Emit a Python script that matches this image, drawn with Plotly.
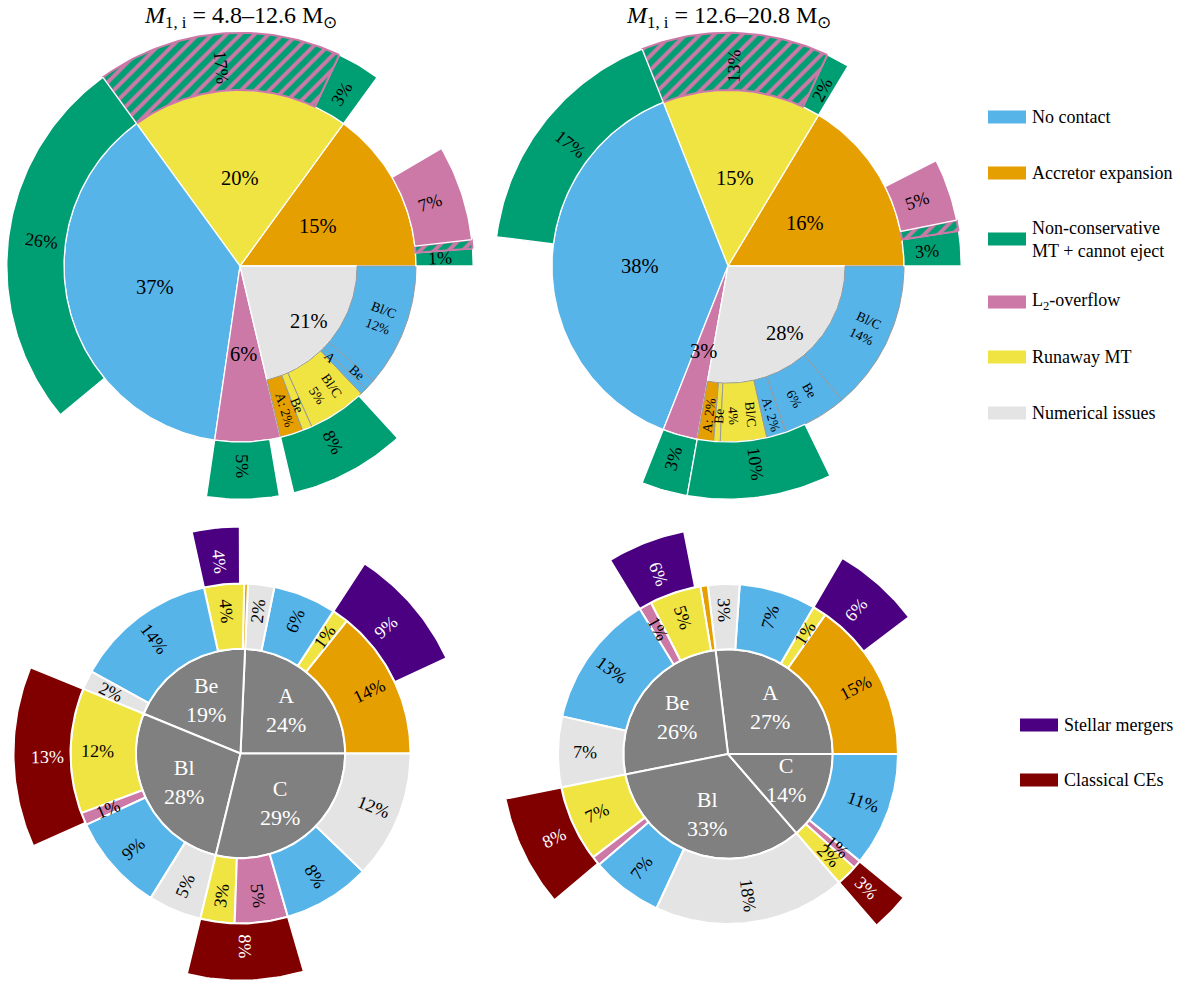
"""
Outcome fractions of the binary models, shown as nested pie charts.
Top row: outcome of the first MT phase split by mass range,
bottom row: the same systems grouped by the type of the donor (A/Be/Bl/C).
"""

import numpy as np
import plotly.graph_objects as go

# =============================================================================
# 1. Data (percent of all systems, counted counter-clockwise from 3 o'clock)
# =============================================================================
titles = [
    "<i>M</i><sub>1, i</sub> = 4.8–12.6 M<sub>⊙</sub>",
    "<i>M</i><sub>1, i</sub> = 12.6–20.8 M<sub>⊙</sub>",
]

legend_names = ["No contact", "Accretor expansion", "Non-conservative<br>MT + cannot eject",
                "L<sub>2</sub>-overflow", "Runaway MT", "Numerical issues"]
legend_cats = ["nocontact", "acc", "nc", "l2", "run", "num"]
legend2_names = ["Stellar mergers", "Classical CEs"]
legend2_cats = ["merger", "ce"]

# --- top left: M1,i = 4.8-12.6 Msun
tl_main_cats = ["acc", "run", "nocontact", "l2", "num"]
tl_main_vals = [15.0, 20.0, 37.7, 6.0, 21.3]
tl_main_text = ["15%", "20%", "37%", "6%", "21%"]
tl_num_cats = ["acc", "run", "run", "nocontact", "nocontact", "nocontact"]
tl_num_vals = [2.1, 0.9, 5.4, 0.6, 1.0, 11.3]
tl_num_text = ["A: 2%", "Be", "Bl/C<br>5%", "A", "Be", "Bl/C<br>12%"]
tl_out_parent = [0, 0, 0, 1, 1, 2, 3, 4]
tl_out_cats = ["nc", "nc_l2", "l2", "nc", "nc_l2", "nc", "nc", "nc"]
tl_out_vals = [1.2, 0.6, 6.6, 3.0, 17.0, 26.0, 5.0, 8.1]
tl_out_text = ["1%", "", "7%", "3%", "17%", "26%", "5%", "8%"]

# --- top right: M1,i = 12.6-20.8 Msun
tr_main_cats = ["acc", "run", "nocontact", "l2", "num"]
tr_main_vals = [16.4, 14.6, 38.0, 3.2, 27.8]
tr_main_text = ["16%", "15%", "38%", "3%", "28%"]
tr_num_cats = ["acc", "run", "run", "nocontact", "nocontact", "nocontact"]
tr_num_vals = [1.5, 0.6, 4.25, 1.8, 5.9, 13.75]
tr_num_text = ["A: 2%", "Be", "Bl/C<br>4%", "A: 2%", "Be<br>6%", "Bl/C<br>14%"]
tr_out_parent = [0, 0, 0, 1, 1, 2, 3, 4]
tr_out_cats = ["nc", "nc_l2", "l2", "nc", "nc_l2", "nc", "nc", "nc"]
tr_out_vals = [2.4, 0.75, 4.3, 1.6, 13.0, 17.0, 3.2, 10.0]
tr_out_text = ["3%", "", "5%", "2%", "13%", "17%", "3%", "10%"]

# --- bottom left: donor types, low-mass range
bl_grp_vals = [24.3, 19.5, 27.4, 28.8]
bl_grp_text = ["A<br>24%", "Be<br>19%", "Bl<br>28%", "C<br>29%"]
bl_ring_grp = [0, 0, 0, 0, 1, 1, 1, 1, 2, 2, 2, 2, 3, 3, 3, 3]
bl_ring_cats = ["acc", "run", "nocontact", "num", "acc", "run", "nocontact", "num",
                "run", "l2", "nocontact", "num", "run", "l2", "nocontact", "num"]
bl_ring_vals = [14.25, 1.55, 6.0, 2.5, 0.35, 3.8, 13.55, 1.8,
                11.9, 1.2, 9.25, 5.05, 3.25, 5.05, 8.3, 12.2]
bl_ring_text = ["14%", "1%", "6%", "2%", "", "4%", "14%", "2%",
                "12%", "1%", "9%", "5%", "3%", "5%", "8%", "12%"]
bl_out_grp = [0, 1, 2, 3]
bl_out_cats = ["merger", "merger", "ce", "ce"]
bl_out_vals = [8.9, 3.4, 12.9, 8.3]
bl_out_text = ["9%", "4%", "13%", "8%"]

# --- bottom right: donor types, high-mass range
br_grp_vals = [26.9, 26.25, 33.2, 13.65]
br_grp_text = ["A<br>27%", "Be<br>26%", "Bl<br>33%", "C<br>14%"]
br_ring_grp = [0, 0, 0, 0, 1, 1, 1, 1, 1, 2, 2, 2, 2, 3, 3, 3]
br_ring_cats = ["acc", "run", "nocontact", "num", "acc", "run", "l2", "nocontact", "num",
                "run", "l2", "nocontact", "num", "run", "l2", "nocontact"]
br_ring_vals = [15.3, 1.3, 7.3, 3.0, 0.7, 4.9, 1.2, 12.75, 6.7,
                7.25, 0.9, 6.8, 18.25, 2.0, 0.8, 10.85]
br_ring_text = ["15%", "1%", "7%", "3%", "", "5%", "1%", "13%", "7%",
                "7%", "", "7%", "18%", "2%", "1%", "11%"]
br_out_grp = [0, 1, 2, 3]
br_out_cats = ["merger", "merger", "ce", "ce"]
br_out_vals = [6.3, 5.6, 8.0, 2.75]
br_out_text = ["6%", "6%", "8%", "3%"]

# =============================================================================
# 2. Style
# =============================================================================
COLORS = {
    "nocontact": "#56B4E9",
    "acc": "#E69F00",
    "nc": "#009E73",
    "l2": "#CC79A7",
    "run": "#F0E442",
    "num": "#E4E4E4",
    "merger": "#4B0082",
    "ce": "#800000",
    "grp": "#808080",
    "nc_l2": "#009E73",
}
FONT = "Liberation Serif, Times New Roman, serif"
SUB_EDGE = "#9a9a9a"

W, H = 1200, 990
UNIT = 176            # px per data unit (= radius of the top pies)
HALF = 1.34           # half size of each panel in data units
centers = [(240, 266), (728, 266), (240.5, 753.5), (728, 754)]

TOP_R_NUM, TOP_R, TOP_R_OUT = 0.665, 1.0, 1.325
BOT_R_IN, BOT_R_RING, BOT_R_OUT = 0.595, 0.966, 1.29

# a couple of the tiny sub-ring labels sit off the middle so they don't collide
sub_label_r = {(0, 3): 0.73, (0, 4): 0.9, (1, 3): 0.88, (1, 4): 0.84}

fig = go.Figure()
annotations = []


def axes(k):
    return ("x", "y") if k == 0 else (f"x{k + 1}", f"y{k + 1}")


def wedge_xy(a0, a1, r0, r1):
    n = max(int(abs(a1 - a0)) + 2, 4)
    t = np.radians(np.linspace(a0, a1, n))
    x = list(r1 * np.cos(t))
    y = list(r1 * np.sin(t))
    if r0 > 0:
        x += list(r0 * np.cos(t[::-1]))
        y += list(r0 * np.sin(t[::-1]))
    else:
        x.append(0.0)
        y.append(0.0)
    x.append(x[0])
    y.append(y[0])
    return x, y


def add_wedge(k, a0, a1, r0, r1, cat, edge="white", ew=1.3):
    x, y = wedge_xy(a0, a1, r0, r1)
    xa, ya = axes(k)
    kw = dict(fill="toself", fillcolor=COLORS[cat], line=dict(color=edge, width=ew))
    if cat == "nc_l2":
        kw["fillpattern"] = dict(shape="/", fgcolor=COLORS["l2"], bgcolor=COLORS["nc"],
                                 fgopacity=1, size=10, solidity=0.4)
        kw["line"] = dict(color=COLORS["l2"], width=2)
    fig.add_trace(go.Scatter(x=x, y=y, mode="lines", hoverinfo="skip",
                             showlegend=False, xaxis=xa, yaxis=ya, **kw))


def add_label(k, text, ang, r, size, color="black", radial=True):
    if not text:
        return
    t = np.radians(ang)
    rot = 0
    if radial:
        rot = -ang
        if 90 < ang % 360 < 270:
            rot += 180
        rot = (rot + 180) % 360 - 180
    xa, ya = axes(k)
    annotations.append(dict(
        x=r * np.cos(t), y=r * np.sin(t), xref=xa, yref=ya, text=text,
        textangle=rot, showarrow=False,
        font=dict(size=size, color=color, family=FONT),
    ))


def draw_top(k, main_cats, main_vals, main_text, num_cats, num_vals, num_text,
             out_parent, out_cats, out_vals, out_text):
    starts = np.concatenate([[0.0], np.cumsum(main_vals)[:-1]])
    for i, (c, v, s) in enumerate(zip(main_cats, main_vals, main_text)):
        a0, a1 = starts[i] * 3.6, (starts[i] + v) * 3.6
        add_wedge(k, a0, a1, 0, TOP_R_NUM if c == "num" else TOP_R, c)
        add_label(k, s, (a0 + a1) / 2, 0.5, 20.5, radial=False)

    # breakdown of the numerical-issues wedge
    pos = starts[main_cats.index("num")]
    for j, (c, v, s) in enumerate(zip(num_cats, num_vals, num_text)):
        a0, a1 = pos * 3.6, (pos + v) * 3.6
        pos += v
        add_wedge(k, a0, a1, TOP_R_NUM, TOP_R, c, edge=SUB_EDGE, ew=1)
        add_label(k, s, (a0 + a1) / 2, sub_label_r.get((k, j), 0.855), 13.5)

    # outer ring, stacked from the start of the parent wedge
    filled = {}
    for p, c, v, s in zip(out_parent, out_cats, out_vals, out_text):
        pos = filled.get(p, starts[p])
        a0, a1 = pos * 3.6, (pos + v) * 3.6
        filled[p] = pos + v
        add_wedge(k, a0, a1, TOP_R, TOP_R_OUT, c)
        add_label(k, s, (a0 + a1) / 2, 1.135, 18)


def draw_bottom(k, grp_vals, grp_text, ring_grp, ring_cats, ring_vals, ring_text,
                out_grp, out_cats, out_vals, out_text):
    gstarts = np.concatenate([[0.0], np.cumsum(grp_vals)[:-1]])
    for i, (v, s) in enumerate(zip(grp_vals, grp_text)):
        a0, a1 = gstarts[i] * 3.6, (gstarts[i] + v) * 3.6
        add_wedge(k, a0, a1, 0, BOT_R_IN, "grp", ew=2)
        add_label(k, s, (a0 + a1) / 2, 0.36, 22, color="white", radial=False)

    spans = []
    filled = {}
    for g, c, v, s in zip(ring_grp, ring_cats, ring_vals, ring_text):
        pos = filled.get(g, gstarts[g])
        filled[g] = pos + v
        spans.append((g, c, pos, pos + v))
        a0, a1 = pos * 3.6, (pos + v) * 3.6
        add_wedge(k, a0, a1, BOT_R_IN, BOT_R_RING, c, ew=2)
        add_label(k, s, (a0 + a1) / 2, 0.815, 18)

    # mergers end where the interacting slices of the group end,
    # classical CEs start where the runaway slice starts
    for g, c, v, s in zip(out_grp, out_cats, out_vals, out_text):
        if c == "ce":
            p0 = min(a for gg, cc, a, b in spans if gg == g and cc == "run")
        else:
            p0 = max(b for gg, cc, a, b in spans if gg == g and cc in ("acc", "run", "l2")) - v
        a0, a1 = p0 * 3.6, (p0 + v) * 3.6
        add_wedge(k, a0, a1, BOT_R_RING, BOT_R_OUT, c, ew=2)
        add_label(k, s, (a0 + a1) / 2, 1.095, 18, color="white")


draw_top(0, tl_main_cats, tl_main_vals, tl_main_text, tl_num_cats, tl_num_vals, tl_num_text,
         tl_out_parent, tl_out_cats, tl_out_vals, tl_out_text)
draw_top(1, tr_main_cats, tr_main_vals, tr_main_text, tr_num_cats, tr_num_vals, tr_num_text,
         tr_out_parent, tr_out_cats, tr_out_vals, tr_out_text)
draw_bottom(2, bl_grp_vals, bl_grp_text, bl_ring_grp, bl_ring_cats, bl_ring_vals, bl_ring_text,
            bl_out_grp, bl_out_cats, bl_out_vals, bl_out_text)
draw_bottom(3, br_grp_vals, br_grp_text, br_ring_grp, br_ring_cats, br_ring_vals, br_ring_text,
            br_out_grp, br_out_cats, br_out_vals, br_out_text)

# =============================================================================
# 3. Titles and hand-made legends
# =============================================================================
for (cx, cy), t in zip(centers[:2], titles):
    annotations.append(dict(x=cx / W, y=1 - 17 / H, xref="paper", yref="paper", text=t,
                            showarrow=False, xanchor="center", yanchor="middle",
                            font=dict(size=24, color="black", family=FONT)))

shapes = []
legend_rows = [117, 173, 239, 302, 357, 413]
legend2_rows = [725, 780]
for names, cats, rows, x0 in [(legend_names, legend_cats, legend_rows, 988),
                              (legend2_names, legend2_cats, legend2_rows, 1020)]:
    for name, cat, yy in zip(names, cats, rows):
        shapes.append(dict(type="rect", xref="paper", yref="paper",
                           x0=x0 / W, x1=(x0 + 38) / W,
                           y0=1 - (yy + 6.5) / H, y1=1 - (yy - 6.5) / H,
                           fillcolor=COLORS[cat], line=dict(width=0)))
        annotations.append(dict(x=(x0 + 42) / W, y=1 - yy / H, xref="paper", yref="paper",
                                text=name, showarrow=False, xanchor="left", yanchor="middle",
                                align="left", font=dict(size=18, color="black", family=FONT)))

# =============================================================================
# 4. Layout
# =============================================================================
layout = dict(
    width=W, height=H,
    margin=dict(l=0, r=0, t=0, b=0),
    paper_bgcolor="white",
    plot_bgcolor="white",
    showlegend=False,
    annotations=annotations,
    shapes=shapes,
    font=dict(family=FONT),
)
for k, (cx, cy) in enumerate(centers):
    half_px = HALF * UNIT
    sfx = "" if k == 0 else str(k + 1)
    layout[f"xaxis{sfx}"] = dict(domain=[(cx - half_px) / W, (cx + half_px) / W],
                                 range=[-HALF, HALF], visible=False, fixedrange=True,
                                 anchor=f"y{sfx}")
    layout[f"yaxis{sfx}"] = dict(domain=[1 - (cy + half_px) / H, 1 - (cy - half_px) / H],
                                 range=[-HALF, HALF], visible=False, fixedrange=True,
                                 anchor=f"x{sfx}")
fig.update_layout(**layout)

# the page's default 8px body margin would shift the whole figure
fig.write_html("out.html", config={"displayModeBar": False},
               post_script="document.body.style.margin = '0px';")
